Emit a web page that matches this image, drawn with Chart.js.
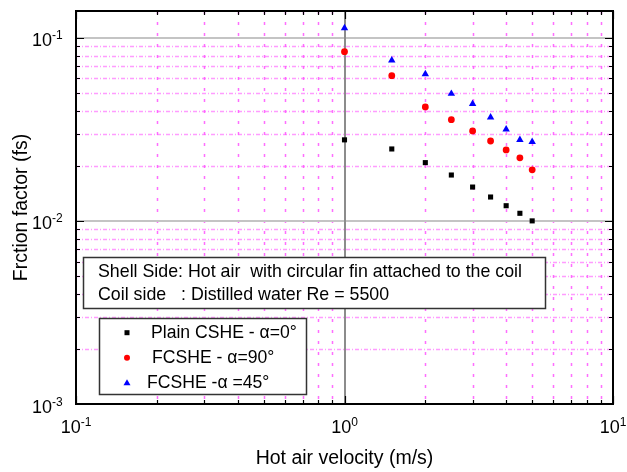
<!DOCTYPE html>
<html>
<head>
<meta charset="utf-8">
<script src="https://cdn.jsdelivr.net/npm/chart.js@4"></script>
<style>
  body { margin: 0; background: #fff; }
  canvas { display: block; }
</style>
</head>
<body>
<canvas id="myChart" width="627" height="472"></canvas>
<script>
// hot air velocity (m/s)
let velocity = [1, 1.5, 2, 2.5, 3, 3.5, 4, 4.5, 5];
// friction factor per configuration
let plain_cshe = [0.0277, 0.0247, 0.0208, 0.0178, 0.0153, 0.0135, 0.0121, 0.0110, 0.0100];
let fcshe_90 = [0.0839, 0.0621, 0.0419, 0.0357, 0.0310, 0.0273, 0.0244, 0.0221, 0.0190];
let fcshe_45 = [0.113, 0.0753, 0.0634, 0.0495, 0.0436, 0.0368, 0.0316, 0.0277, 0.0270];

let series_labels = ['Plain CSHE - \u03b1=0\u00b0', 'FCSHE - \u03b1=90\u00b0', 'FCSHE -\u03b1 =45\u00b0'];

// decade tick labels: 10^exp
let x_ticks = [0.1, 1, 10];
let x_tick_exp = ['-1', '0', '1'];
let y_ticks = [0.001, 0.01, 0.1];
let y_tick_exp = ['-3', '-2', '-1'];

let note_lines = [
    'Shell Side: Hot air  with circular fin attached to the coil',
    'Coil side   : Distilled water Re = 5500'
];

const FONT = "'Liberation Sans', Arial, sans-serif";

function toPoints(xs, ys) {
    return xs.map((x, i) => ({ x: x, y: ys[i] }));
}

// 1..9 x decade values inside [min, max] on a log axis
function logValues(min, max) {
    let out = [];
    for (let d = Math.floor(Math.log10(min)); d <= Math.ceil(Math.log10(max)); d++) {
        for (let m = 1; m <= 9; m++) {
            let v = m * Math.pow(10, d);
            if (v >= min * 0.999 && v <= max * 1.001) out.push({ v: v, major: m === 1 });
        }
    }
    return out;
}

function drawPow(ctx, base, exp, x, y, align) {
    ctx.font = '18px ' + FONT;
    let wb = ctx.measureText(base).width;
    ctx.font = '12px ' + FONT;
    let we = ctx.measureText(exp).width;
    let x0 = align === 'center' ? x - (wb + we) / 2 : x;
    ctx.textAlign = 'left';
    ctx.textBaseline = 'alphabetic';
    ctx.font = '18px ' + FONT;
    ctx.fillText(base, x0, y);
    ctx.font = '12px ' + FONT;
    ctx.fillText(exp, x0 + wb, y - 7);
}

const gridPlugin = {
    id: 'gridPlugin',
    beforeDatasetsDraw(chart) {
        let ctx = chart.ctx;
        let a = chart.chartArea;
        let xs = chart.scales.x, ys = chart.scales.y;
        ctx.save();
        // minor magenta dotted grid
        ctx.strokeStyle = 'rgba(255, 60, 255, 0.75)';
        ctx.lineWidth = 1.5;
        logValues(xs.min, xs.max).forEach(t => {
            if (t.major) return;
            let px = Math.round(xs.getPixelForValue(t.v)) + 0.5;
            ctx.setLineDash([3, 8]);
            ctx.beginPath(); ctx.moveTo(px, a.top); ctx.lineTo(px, a.bottom); ctx.stroke();
        });
        ctx.strokeStyle = 'rgba(255, 90, 255, 0.6)';
        logValues(ys.min, ys.max).forEach(t => {
            if (t.major) return;
            let py = Math.round(ys.getPixelForValue(t.v)) + 0.5;
            ctx.setLineDash([4, 2, 1, 2]);
            ctx.beginPath(); ctx.moveTo(a.left, py); ctx.lineTo(a.right, py); ctx.stroke();
        });
        ctx.setLineDash([]);
        // major gray grid
        ctx.lineWidth = 2;
        ctx.strokeStyle = '#c4c4c4';
        y_ticks.forEach(v => {
            let py = Math.round(ys.getPixelForValue(v));
            if (py <= a.top + 1 || py >= a.bottom - 1) return;
            ctx.beginPath(); ctx.moveTo(a.left, py); ctx.lineTo(a.right, py); ctx.stroke();
        });
        ctx.strokeStyle = '#8c8c8c';
        x_ticks.forEach(v => {
            let px = Math.round(xs.getPixelForValue(v));
            if (px <= a.left + 1 || px >= a.right - 1) return;
            ctx.beginPath(); ctx.moveTo(px, a.top); ctx.lineTo(px, a.bottom); ctx.stroke();
        });
        ctx.restore();
    },
    afterDatasetsDraw(chart) {
        let ctx = chart.ctx;
        let a = chart.chartArea;
        let xs = chart.scales.x, ys = chart.scales.y;
        ctx.save();

        // inward ticks on all four sides
        ctx.strokeStyle = '#000';
        ctx.lineWidth = 1.2;
        logValues(xs.min, xs.max).forEach(t => {
            let px = Math.round(xs.getPixelForValue(t.v)) + 0.5;
            let len = t.major ? 8 : 4;
            ctx.beginPath();
            ctx.moveTo(px, a.bottom); ctx.lineTo(px, a.bottom - len);
            ctx.moveTo(px, a.top); ctx.lineTo(px, a.top + len);
            ctx.stroke();
        });
        logValues(ys.min, ys.max).forEach(t => {
            let py = Math.round(ys.getPixelForValue(t.v)) + 0.5;
            let len = t.major ? 8 : 4;
            ctx.beginPath();
            ctx.moveTo(a.left, py); ctx.lineTo(a.left + len, py);
            ctx.moveTo(a.right, py); ctx.lineTo(a.right - len, py);
            ctx.stroke();
        });

        // frame
        ctx.lineWidth = 2;
        ctx.strokeRect(a.left, a.top, a.right - a.left, a.bottom - a.top);

        // note box
        ctx.fillStyle = '#fff';
        ctx.fillRect(83, 257, 463, 52);
        ctx.lineWidth = 1.5;
        ctx.strokeStyle = '#333';
        ctx.strokeRect(83.5, 257.5, 462, 51);
        ctx.fillStyle = '#000';
        ctx.font = '17.8px ' + FONT;
        ctx.textAlign = 'left';
        ctx.textBaseline = 'middle';
        ctx.fillText(note_lines[0], 98, 272);
        ctx.fillText(note_lines[1], 98, 295);

        // legend box
        ctx.fillStyle = '#fff';
        ctx.fillRect(99, 318, 208, 77);
        ctx.strokeRect(99.5, 318.5, 207, 76);
        let rows = [332.7, 357.7, 382.7];
        let text_x = [151, 152, 147];
        let mx = 127;
        // square
        ctx.fillStyle = '#000';
        ctx.fillRect(mx - 2.5, rows[0] - 2.5, 5, 5);
        // circle
        ctx.fillStyle = '#ff0000';
        ctx.beginPath(); ctx.arc(mx, rows[1], 3, 0, Math.PI * 2); ctx.fill();
        // triangle
        ctx.fillStyle = '#0000ff';
        ctx.beginPath();
        ctx.moveTo(mx, rows[2] - 3.5); ctx.lineTo(mx + 3.5, rows[2] + 2.5); ctx.lineTo(mx - 3.5, rows[2] + 2.5);
        ctx.closePath(); ctx.fill();
        ctx.fillStyle = '#000';
        ctx.font = '17.6px ' + FONT;
        series_labels.forEach((s, i) => ctx.fillText(s, text_x[i], rows[i]));

        // tick labels
        ctx.fillStyle = '#000';
        x_ticks.forEach((v, i) => {
            drawPow(ctx, '10', x_tick_exp[i], xs.getPixelForValue(v), 433, 'center');
        });
        y_ticks.forEach((v, i) => {
            drawPow(ctx, '10', y_tick_exp[i], 32, ys.getPixelForValue(v) + 8.5, 'left');
        });

        // axis titles
        ctx.font = '19.5px ' + FONT;
        ctx.textAlign = 'center';
        ctx.textBaseline = 'alphabetic';
        ctx.fillText('Hot air velocity (m/s)', (a.left + a.right) / 2, 464);
        ctx.translate(26.5, (a.top + a.bottom) / 2);
        ctx.rotate(-Math.PI / 2);
        ctx.fillText('Frction factor (fs)', 0, 0);

        ctx.restore();
    }
};

let chart_data = {
    datasets: [{
        label: series_labels[0],
        data: toPoints(velocity, plain_cshe),
        pointStyle: 'rect',
        pointRadius: 3.6,
        backgroundColor: '#000000',
        borderColor: '#000000',
        borderWidth: 0
    },
    {
        label: series_labels[1],
        data: toPoints(velocity, fcshe_90),
        pointStyle: 'circle',
        pointRadius: 3.4,
        backgroundColor: '#ff0000',
        borderColor: '#ff0000',
        borderWidth: 0
    },
    {
        label: series_labels[2],
        data: toPoints(velocity, fcshe_45),
        pointStyle: 'triangle',
        pointRadius: 4.3,
        backgroundColor: '#0000ff',
        borderColor: '#0000ff',
        borderWidth: 0
    }]
};

let config = {
    type: 'scatter',
    data: chart_data,
    options: {
        responsive: false,
        animation: false,
        layout: {
            padding: { left: 76, right: 14, top: 11, bottom: 68 }
        },
        plugins: {
            legend: { display: false },
            tooltip: { enabled: false }
        },
        scales: {
            x: { type: 'logarithmic', min: 0.1, max: 10, display: false },
            y: { type: 'logarithmic', min: 0.001, max: 0.14, display: false }
        }
    },
    plugins: [gridPlugin]
};

let myChart = new Chart(document.getElementById('myChart'), config);
</script>
</body>
</html>
